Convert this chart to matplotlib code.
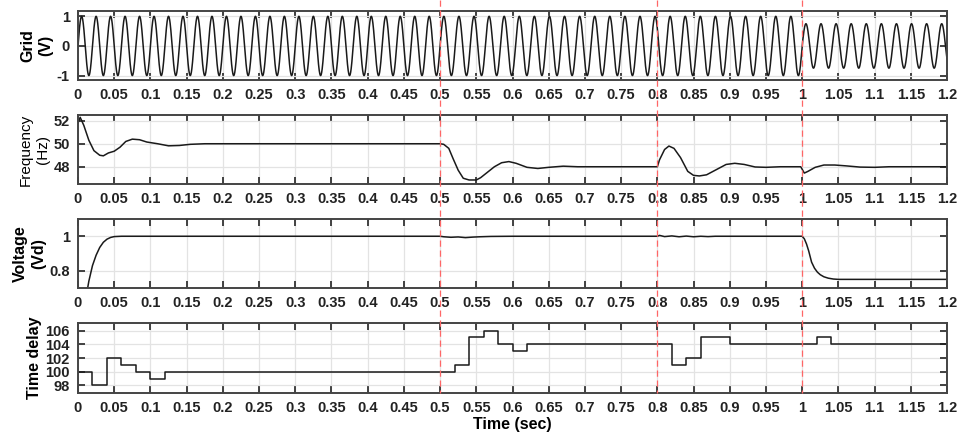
import numpy as np
import matplotlib
matplotlib.use("Agg")
import matplotlib.pyplot as plt
from matplotlib import transforms
from matplotlib.lines import Line2D

plt.rcParams['font.family'] = ['Liberation Sans', 'DejaVu Sans']

# grid voltage: piecewise frequency / amplitude per segment
grid_edges = [0.0, 0.5, 0.8, 1.0, 1.2]
grid_freq = [50.0, 48.0, 48.0, 48.0]
grid_amp = [1.0, 1.0, 1.0, 0.75]

# frequency (Hz)
freq_t = [0, 0.003, 0.008, 0.015, 0.022, 0.03, 0.035, 0.042, 0.05, 0.058,
          0.066, 0.075, 0.085, 0.095, 0.11, 0.125, 0.14, 0.155, 0.175, 0.5,
          0.505, 0.512, 0.518, 0.525, 0.532, 0.54, 0.55, 0.556, 0.565, 0.575,
          0.585, 0.595, 0.605, 0.62, 0.635, 0.65, 0.67, 0.69, 0.8,
          0.803, 0.81, 0.816, 0.823, 0.832, 0.842, 0.85, 0.858, 0.868, 0.88,
          0.895, 0.907, 0.92, 0.935, 0.95, 0.97, 0.998,
          1.003, 1.008, 1.018, 1.03, 1.045, 1.06, 1.08, 1.1, 1.12, 1.2]
freq_v = [51.8, 52.3, 51.6, 50.3, 49.4, 49.0, 48.95, 49.2, 49.35, 49.7,
          50.2, 50.4, 50.35, 50.15, 50.0, 49.82, 49.85, 49.95, 50.0, 50.0,
          49.95, 49.6, 48.7, 47.7, 47.0, 46.85, 46.85, 47.05, 47.5, 48.0,
          48.35, 48.45, 48.3, 47.95, 47.85, 47.95, 48.05, 48.0, 48.0,
          48.6, 49.5, 49.8, 49.6, 48.8, 47.6, 47.25, 47.2, 47.3, 47.7,
          48.2, 48.3, 48.2, 47.98, 47.95, 48.0, 48.0,
          47.45, 47.6, 47.95, 48.15, 48.15, 48.08, 47.97, 47.95, 48.0, 48.0]

# voltage (Vd)
volt_t = [0, 0.01, 0.015, 0.02, 0.025, 0.03, 0.035, 0.04, 0.045, 0.05, 0.06,
          0.5, 0.505, 0.515, 0.525, 0.535, 0.545, 0.555, 0.57, 0.6,
          0.8, 0.803, 0.81, 0.82, 0.83, 0.84, 0.85, 0.86, 0.87, 0.88, 0.9,
          1.0, 1.003, 1.006, 1.009, 1.013, 1.017, 1.021, 1.025, 1.03, 1.036,
          1.043, 1.05, 1.2]
volt_v = [0.3, 0.62, 0.74, 0.83, 0.89, 0.935, 0.965, 0.983, 0.993, 0.998, 1.0,
          1.0, 0.997, 0.994, 0.996, 0.992, 0.995, 0.997, 0.999, 1.0,
          1.0, 1.005, 0.998, 1.002, 0.997, 1.001, 0.997, 1.0, 0.998, 1.0, 1.0,
          1.0, 0.985, 0.955, 0.915, 0.85, 0.815, 0.792, 0.777, 0.765, 0.757,
          0.752, 0.75, 0.75]

# time delay (steps)
delay_t = [0, 0.02, 0.04, 0.06, 0.08, 0.1, 0.12, 0.52, 0.54, 0.56, 0.58,
           0.6, 0.62, 0.82, 0.84, 0.86, 0.9, 1.02, 1.04, 1.2]
delay_v = [100, 98, 102, 101, 100, 99, 100, 101, 105, 106, 104,
           103, 104, 101, 102, 105, 104, 105, 104, 104]

event_times = [0.5, 0.8, 1.0]
xticks = np.round(np.arange(0, 1.2001, 0.05), 2)
xticklabels = ['%g' % v for v in xticks]

# build grid waveform with continuous phase
t = np.linspace(0, 1.2, 12001)
seg = np.clip(np.searchsorted(grid_edges, t, side='right') - 1, 0, len(grid_freq) - 1)
f_t = np.array(grid_freq)[seg]
a_t = np.array(grid_amp)[seg]
phase = 2 * np.pi * np.concatenate([[0], np.cumsum(f_t[:-1] * np.diff(t))])
grid_v = a_t * np.sin(phase)

fig = plt.figure(figsize=(9.6, 4.41), dpi=100)

W, H = 960.0, 441.0
left, right = 78, 947
rects = [(11, 80), (115, 184), (219, 288), (323, 393)]
axes = []
for top, bot in rects:
    ax = fig.add_axes([left / W, 1 - bot / H, (right - left) / W, (bot - top) / H])
    axes.append(ax)

tick_font = dict(fontsize=10.5, fontweight='bold', color='#222222')
lab_font = dict(fontsize=11.5, fontweight='bold', linespacing=1.3)

for ax in axes:
    ax.set_xlim(0, 1.2)
    ax.set_xticks(xticks)
    ax.set_xticklabels(xticklabels, **tick_font)
    ax.tick_params(direction='in', length=5, width=1.3, color='#333333',
                   top=True, right=True, pad=6)
    ax.grid(True, color='#e3e3e3', lw=0.9)
    ax.set_axisbelow(True)
    for s in ax.spines.values():
        s.set_linewidth(1.4)
        s.set_color('#444444')

ax1, ax2, ax3, ax4 = axes

ax1.plot(t, grid_v, color='#1a1a1a', lw=1.1)
ax1.set_ylim(-1.15, 1.18)
ax1.set_yticks([-1, 0, 1])
ax1.set_yticklabels(['-1', '0', '1'], **tick_font)
ax1.set_ylabel('Grid\n(V)', **lab_font)
ax1.yaxis.set_label_coords(-0.028, 0.5)

ax2.plot(freq_t, freq_v, color='#1a1a1a', lw=1.1)
ax2.set_ylim(46.5, 52.5)
ax2.set_yticks([48, 50, 52])
ax2.set_yticklabels(['48', '50', '52'], **tick_font)
ax2.set_ylabel('Frequency\n(Hz)', fontsize=11, linespacing=1.3)
ax2.yaxis.set_label_coords(-0.032, 0.5)

ax3.plot(volt_t, volt_v, color='#1a1a1a', lw=1.1)
ax3.set_ylim(0.7, 1.1)
ax3.set_yticks([0.8, 1.0])
ax3.set_yticklabels(['0.8', '1'], **tick_font)
ax3.set_ylabel('Voltage\n(Vd)', **lab_font)
ax3.yaxis.set_label_coords(-0.036, 0.5)

ax4.step(delay_t, delay_v, where='post', color='#1a1a1a', lw=1.1)
ax4.set_ylim(96.9, 107.1)
ax4.set_yticks([98, 100, 102, 104, 106])
ax4.set_yticklabels(['98', '100', '102', '104', '106'], **tick_font)
ax4.set_ylabel('Time delay', fontsize=11.5, fontweight='bold')
ax4.yaxis.set_label_coords(-0.041, 0.5)
ax4.set_xlabel('Time (sec)', fontsize=11.5, fontweight='bold', labelpad=1)

# red dashed event markers spanning all panels
trans = transforms.blended_transform_factory(ax4.transData, fig.transFigure)
for x in event_times:
    fig.add_artist(Line2D([x, x], [1.0, 1 - 393 / H], transform=trans,
                          color='#ff6666', lw=0.9, dashes=(5, 3), zorder=10))

fig.savefig('out.png', dpi=100)
